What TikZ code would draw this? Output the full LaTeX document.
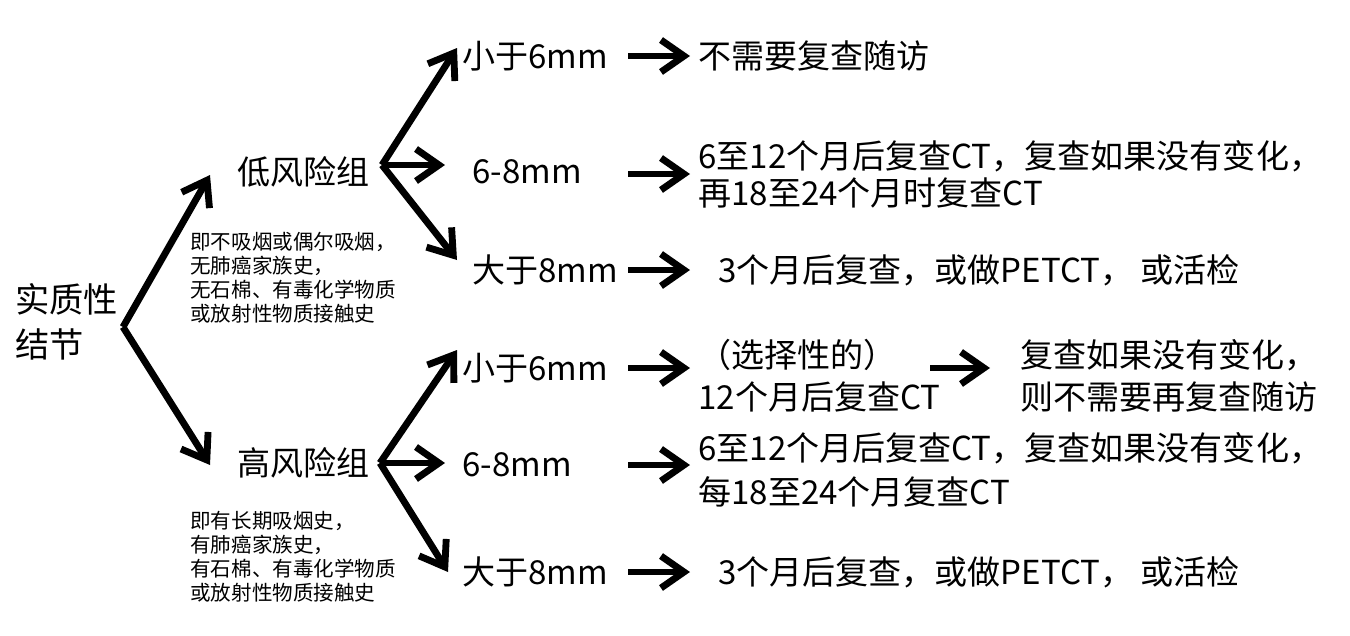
\documentclass[tikz,border=0pt]{standalone}
\usepackage{fontspec}
\setmainfont{Noto Sans CJK SC}
\usetikzlibrary{arrows.meta,positioning}
\tikzset{
  bigarrow/.style={-{Straight Barb[length=4.6mm,width=6.4mm]},
    line width=3.9pt,draw=black},
  steptext/.style={anchor=west,inner sep=0pt,align=left,
    font=\fontsize{18.8}{21}\selectfont},
  notetext/.style={anchor=west,inner sep=0pt,align=left,
    font=\fontsize{11.7}{13.7}\selectfont},
}

\begin{document}
\begin{tikzpicture}[x=0.02cm,y=-0.02cm]
  \useasboundingbox (0,0) rectangle (1350,636);
  % root and the two risk groups
  \node[steptext,font=\fontsize{19.5}{25.6}\selectfont] (root) at (15,322) {实质性\\结节};
  \node[steptext] (low) at (237,172) {低风险组};
  \node[steptext] (high) at (237,463) {高风险组};
  \node[notetext] (lownote) at (190,278) {即不吸烟或偶尔吸烟，\\无肺癌家族史，\\无石棉、有毒化学物质\\或放射性物质接触史};
  \node[notetext] (highnote) at (190,557) {即有长期吸烟史，\\有肺癌家族史，\\有石棉、有毒化学物质\\或放射性物质接触史};
  \coordinate (rootfork) at (123,327);
  \coordinate (lowtip) at (210,175);
  \coordinate (hightip) at (210,465);
  \draw[bigarrow] (rootfork) -- (lowtip);
  \draw[bigarrow] (rootfork) -- (hightip);

  % nodule sizes
  \node[steptext] (l1) at (462,56) {小于6mm};
  \node[steptext] (l2) at (472,172) {6-8mm};
  \node[steptext] (l3) at (472,270) {大于8mm};
  \node[steptext] (h1) at (462,368) {小于6mm};
  \node[steptext] (h2) at (462,465) {6-8mm};
  \node[steptext] (h3) at (462,572) {大于8mm};
  \coordinate (lowfork) at (382,165);
  \coordinate (highfork) at (380,463);
  \coordinate (l1tip) at (457,48);
  \coordinate (l2tip) at (445,165);
  \coordinate (l3tip) at (457,260);
  \coordinate (h1tip) at (457,350);
  \coordinate (h2tip) at (445,463);
  \coordinate (h3tip) at (448,572);
  \foreach \t in {l1tip,l2tip,l3tip}
    \draw[bigarrow] (lowfork) -- (\t);
  \foreach \t in {h1tip,h2tip,h3tip}
    \draw[bigarrow] (highfork) -- (\t);

  % follow-up advice
  \node[steptext] (r1) at (698,56) {不需要复查随访};
  \node[steptext,font=\fontsize{18.8}{21}\selectfont] (r2) at (698,174) {6至12个月后复查CT，复查如果没有变化，\\再18至24个月时复查CT};
  \node[steptext] (r3) at (718,270) {3个月后复查，或做PETCT， 或活检};
  \node[steptext,font=\fontsize{18.8}{24}\selectfont] (s1) at (698,376) {（选择性的）\\12个月后复查CT};
  \node[steptext,font=\fontsize{18.8}{24}\selectfont] (s2) at (1020,376) {复查如果没有变化，\\则不需要再复查随访};
  \node[steptext,font=\fontsize{18.8}{25}\selectfont] (s3) at (698,470) {6至12个月后复查CT，复查如果没有变化，\\每18至24个月复查CT};
  \node[steptext] (s4) at (718,572) {3个月后复查，或做PETCT， 或活检};
  \coordinate (acol) at (628,0);
  \coordinate (bcol) at (690,0);
  \coordinate (ccol) at (930,0);
  \coordinate (dcol) at (990,0);
  \foreach \n in {l1,l3,h2,h3}
    \draw[bigarrow] (acol |- \n) -- (bcol |- \n);
  \draw[bigarrow] (acol |- r2) -- (bcol |- r2);
  \draw[bigarrow] (acol |- h1) -- (bcol |- h1);
  \draw[bigarrow] (ccol |- h1) -- (dcol |- h1);
\end{tikzpicture}
\end{document}
